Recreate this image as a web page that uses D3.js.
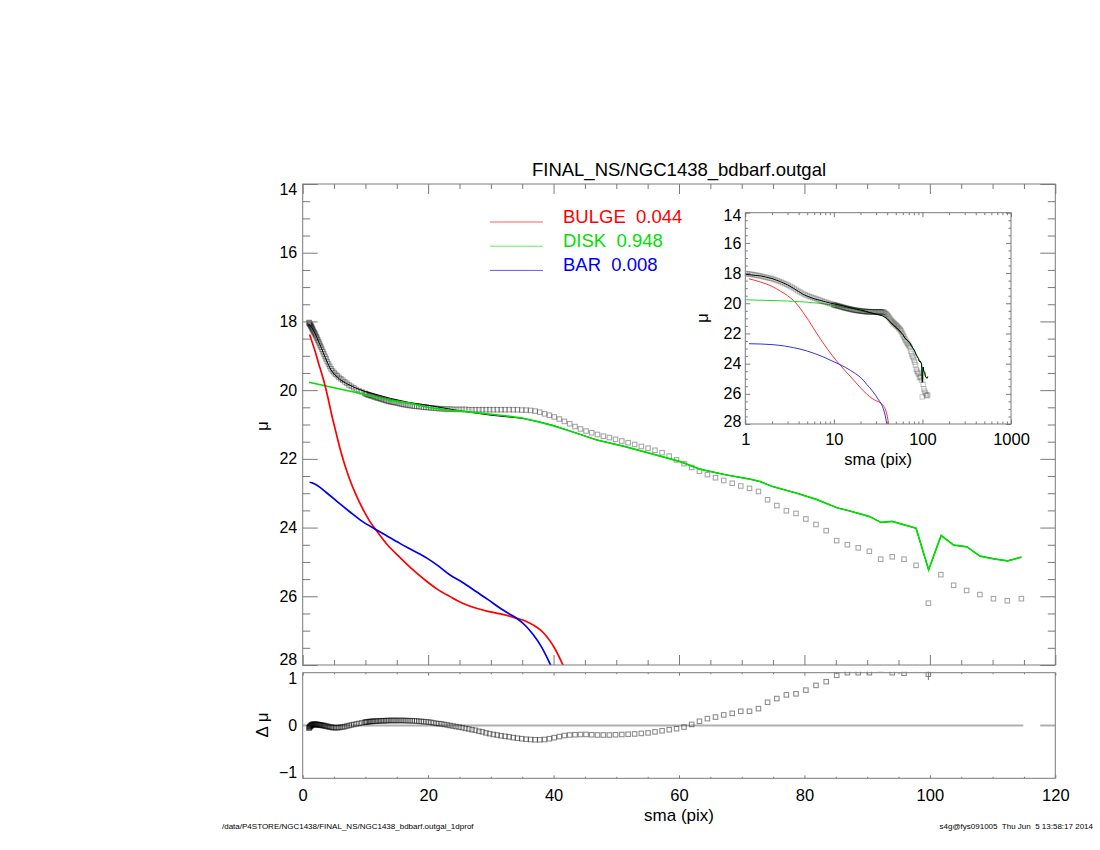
<!DOCTYPE html>
<html>
<head>
<meta charset="utf-8">
<script src="https://cdn.jsdelivr.net/npm/d3@7"></script>
<style>
  body { margin: 0; background: #fff; }
  svg text { font-family: "Liberation Sans", Arial, Helvetica, sans-serif; fill: #000; }
</style>
</head>
<body>
<svg id="chart" width="1100" height="850"></svg>
<script>
// ---- data ----
// isophote semi-major axis (pix)
var sma = [1.00, 1.05, 1.10, 1.16, 1.22, 1.28, 1.34, 1.41, 1.48, 1.55, 1.63, 1.71, 1.80, 1.89, 1.98, 2.08,
  2.18, 2.29, 2.41, 2.53, 2.65, 2.79, 2.93, 3.07, 3.23, 3.39, 3.56, 3.73, 3.92, 4.12, 4.32, 4.54,
  4.76, 5.00, 5.25, 5.52, 5.79, 6.08, 6.39, 6.70, 7.04, 7.39, 7.76, 8.15, 8.56, 8.99, 9.43, 9.91,
  10.03, 10.23, 10.44, 10.65, 10.86, 11.07, 11.30, 11.52, 11.75, 11.99, 12.23, 12.47, 12.72, 12.98,
  13.24, 13.50, 13.77, 14.05, 14.33, 14.61, 14.90, 15.20, 15.51, 15.82, 16.13, 16.45, 16.78, 17.12,
  17.46, 17.81, 18.17, 18.53, 18.90, 19.28, 19.67, 20.06, 20.46, 20.87, 21.29, 21.71, 22.15, 22.59,
  23.04, 23.50, 23.97, 24.45, 24.94, 25.44, 25.95, 26.47, 27.00, 27.54, 28.09, 28.65, 29.22, 29.80,
  30.40, 31.01, 31.63, 32.26, 32.91, 33.57, 34.24, 34.92, 35.62, 36.33, 37.06, 37.80,
  38.56, 39.33, 40.11, 40.92, 41.73, 42.57, 43.42, 44.29, 45.18, 46.08, 47.00, 47.94, 48.90, 49.88,
  50.88, 51.89, 52.93, 53.99, 55.07, 56.17, 57.30, 58.44, 59.61, 60.80, 62.02, 63.26, 64.53, 65.82,
  67.13, 68.48, 69.85, 71.24, 72.67, 74.12, 75.60, 77.12, 78.66, 80.23, 81.84, 83.47, 85.14, 86.85,
  88.58, 90.35, 92.16, 94.00, 95.88, 97.80, 99.76, 101.75, 103.79, 105.86, 107.98, 110.14, 112.34, 114.59];

// observed surface brightness
var mu = [18.03, 18.05, 18.06, 18.08, 18.10, 18.12, 18.14, 18.17, 18.19, 18.22, 18.25, 18.28, 18.31, 18.34, 18.37, 18.41,
  18.45, 18.49, 18.54, 18.59, 18.64, 18.70, 18.75, 18.81, 18.88, 18.95, 19.02, 19.09, 19.17, 19.24, 19.31, 19.38,
  19.44, 19.49, 19.54, 19.58, 19.63, 19.67, 19.71, 19.76, 19.80, 19.85, 19.89, 19.93, 19.98, 20.02, 20.05, 20.09,
  20.11, 20.12, 20.14, 20.15, 20.16, 20.17, 20.19, 20.20, 20.22, 20.23, 20.24, 20.26, 20.27, 20.29,
  20.30, 20.32, 20.33, 20.34, 20.35, 20.36, 20.37, 20.38, 20.40, 20.41, 20.42, 20.43, 20.44, 20.45,
  20.46, 20.47, 20.47, 20.48, 20.49, 20.50, 20.50, 20.51, 20.52, 20.52, 20.53, 20.54, 20.54, 20.55,
  20.55, 20.55, 20.56, 20.56, 20.56, 20.56, 20.56, 20.57, 20.57, 20.57, 20.57, 20.57, 20.57, 20.57,
  20.57, 20.57, 20.57, 20.57, 20.57, 20.57, 20.57, 20.58, 20.58, 20.59, 20.61, 20.64,
  20.69, 20.73, 20.78, 20.84, 20.91, 20.98, 21.06, 21.13, 21.19, 21.24, 21.29, 21.34, 21.38, 21.43,
  21.48, 21.53, 21.58, 21.64, 21.69, 21.75, 21.82, 21.92, 22.03, 22.14, 22.25, 22.36, 22.46, 22.55,
  22.63, 22.71, 22.79, 22.86, 22.95, 23.19, 23.36, 23.51, 23.59, 23.75, 23.91, 24.09, 24.38, 24.50,
  24.59, 24.69, 24.92, 24.85, 24.92, 25.10, 26.20, 25.37, 25.68, 25.83, 25.95, 26.07, 26.13, 26.07];

// residual data - model
var dmu = [-0.05, -0.04, -0.03, -0.02, -0.01, -0.01, 0.00, 0.01, 0.01, 0.02, 0.02, 0.02, 0.02, 0.02, 0.02, 0.02,
  0.02, 0.02, 0.02, 0.01, 0.01, 0.01, 0.01, 0.00, 0.00, 0.00, -0.01, -0.01, -0.02, -0.02, -0.03, -0.03,
  -0.04, -0.04, -0.04, -0.04, -0.04, -0.03, -0.03, -0.02, -0.01, 0.00, 0.01, 0.02, 0.03, 0.04, 0.05, 0.06,
  0.065, 0.07, 0.07, 0.075, 0.075, 0.08, 0.08, 0.08, 0.085, 0.085, 0.085, 0.09, 0.09, 0.09,
  0.09, 0.095, 0.095, 0.095, 0.095, 0.095, 0.095, 0.095, 0.095, 0.095, 0.095, 0.093, 0.092, 0.09,
  0.09, 0.088, 0.085, 0.08, 0.077, 0.073, 0.07, 0.065, 0.06, 0.05, 0.04, 0.035, 0.03, 0.02,
  0.01, 0.00, -0.01, -0.02, -0.03, -0.04, -0.055, -0.065, -0.08, -0.09, -0.11, -0.12, -0.14, -0.155,
  -0.17, -0.18, -0.195, -0.205, -0.215, -0.23, -0.24, -0.25, -0.26, -0.265, -0.27, -0.27,
  -0.265, -0.25, -0.23, -0.21, -0.19, -0.18, -0.175, -0.17, -0.17, -0.175, -0.18, -0.18, -0.18, -0.175,
  -0.17, -0.165, -0.16, -0.15, -0.14, -0.12, -0.10, -0.08, -0.06, -0.03, 0.02, 0.08, 0.13, 0.16,
  0.20, 0.23, 0.27, 0.27, 0.32, 0.44, 0.51, 0.58, 0.60, 0.67, 0.76, 0.83, 0.95, 1.00,
  1.00, 1.00, 1.07, 1.00, 0.99, 1.08, 0.97, 1.14, 1.17, 1.27, 1.12, 1.16, 1.16, 1.21];

// error bar visible on the residual panel
var errX = [99.76];
var errLo = [0.86];
var errHi = [1.08];

// model components
var bulgeX = [1.1, 1.5, 2.0, 2.5, 3.0, 3.5, 4.0, 4.6, 5.2, 5.95, 6.7, 7.5, 8.5, 9.7, 10.7, 11.8, 13.5, 15.5,
  17.5, 19.8, 21.5, 23.5, 25.5, 27.7, 29.5, 31.5, 33.0, 34.1, 35.5, 36.8, 37.9, 38.9, 40.2, 41.5, 42.5];
var bulgeMu = [18.38, 18.6, 18.88, 19.2, 19.5, 19.82, 20.2, 20.7, 21.15, 21.7, 22.17, 22.6, 23.05, 23.5, 23.82, 24.1, 24.5, 24.87,
  25.22, 25.57, 25.8, 26.01, 26.2, 26.35, 26.44, 26.51, 26.58, 26.64, 26.72, 26.84, 26.98, 27.17, 27.52, 28.0, 28.4];

var diskX = [1.0, 3.0, 5.0, 7.0, 9.1, 11.3, 14.0, 17.1, 20.0, 23.0, 25.1, 28.0, 31.5, 35.0, 37.8, 40.0, 43.1, 46.9,
  51.1, 55.4, 60.2, 63.3, 67.6, 71.3, 72.9, 75.0, 76.8, 78.8, 81.9, 85.3, 87.1, 90.4, 92.2, 94.0, 97.8,
  99.8, 101.8, 103.8, 105.9, 108.0, 110.2, 112.4, 114.6];
var diskMu = [19.77, 19.85, 19.93, 20.01, 20.09, 20.2, 20.3, 20.38, 20.5, 20.58, 20.61, 20.66, 20.73, 20.81, 20.93, 21.04, 21.22, 21.45,
  21.63, 21.84, 22.08, 22.3, 22.47, 22.59, 22.66, 22.81, 22.9, 23.0, 23.18, 23.43, 23.51, 23.68, 23.85, 23.82, 24.02,
  25.23, 24.23, 24.51, 24.56, 24.83, 24.91, 24.97, 24.86];

var barX = [1.1, 1.5, 2.0, 2.76, 3.5, 4.9, 6.0, 7.5, 9.5, 11.8, 13.5, 15.5, 17.5, 19.8, 21.5, 23.5, 25.5, 27.7,
  29.5, 31.5, 33.0, 34.1, 35.5, 36.8, 38.0, 39.4, 40.5];
var barMu = [22.68, 22.70, 22.74, 22.83, 22.94, 23.15, 23.32, 23.54, 23.82, 24.07, 24.25, 24.46, 24.66, 24.89, 25.1, 25.38, 25.6, 25.87,
  26.09, 26.35, 26.52, 26.64, 26.85, 27.13, 27.45, 27.95, 28.4];

// total model
var modelX = [1.0, 1.5, 2.0, 2.5, 3.0, 3.5, 4.0, 4.5, 5.0, 6.0, 7.0, 8.0, 9.0, 10, 12, 14, 17, 20, 25, 30, 35, 37.8,
  40.0, 43.1, 46.9, 51.1, 55.4, 60.2, 63.3, 67.6, 71.3, 72.9, 75.0, 76.8, 78.8, 81.9, 85.3, 87.1, 90.4, 92.2,
  94.0, 97.8, 99.8, 101.8, 103.8, 105.9, 108.0, 110.2, 112.4, 114.6];
var modelMu = [18.08, 18.19, 18.36, 18.57, 18.78, 19.01, 19.22, 19.41, 19.53, 19.7, 19.81, 19.9, 19.98, 20.04, 20.14, 20.24, 20.36, 20.44, 20.6, 20.73, 20.82, 20.93,
  21.03, 21.22, 21.45, 21.63, 21.84, 22.08, 22.3, 22.47, 22.59, 22.66, 22.81, 22.9, 23.0, 23.18, 23.43, 23.51, 23.68, 23.85,
  23.82, 24.02, 25.23, 24.23, 24.51, 24.56, 24.83, 24.91, 24.97, 24.86];

var legendNames = ["BULGE  0.044", "DISK  0.948", "BAR  0.008"];
var legendColors = ["#ff0000", "#00e000", "#0000ee"];

var xTicks = [0, 20, 40, 60, 80, 100, 120];
var muTicks = [14, 16, 18, 20, 22, 24, 26, 28];
var dmuTicks = [-1, 0, 1];
var logTicks = [1, 10, 100, 1000];

// ---- layout ----
var svg = d3.select("#chart");
var P = {left: 302.7, right: 1055.3, top: 184, bottom: 665};   // main panel
var R = {top: 672.7, bottom: 778.3};                             // residual panel
var I = {left: 745.3, right: 1011, top: 212.7, bottom: 424};     // inset

var x = d3.scaleLinear().domain([0, 120]).range([P.left, P.right]);
var y = d3.scaleLinear().domain([14, 28]).range([P.top, P.bottom]);
var yr = d3.scaleLinear().domain([-1, 1]).range([R.bottom, R.top]);
var xi = d3.scaleLog().domain([1, 1000]).range([I.left, I.right]);
var yi = d3.scaleLinear().domain([14, 28]).range([I.top, I.bottom]);

var axisGrey = "#7a7a7a";
var SQ = 4.5;

function clip(id, x0, y0, x1, y1) {
  svg.append("clipPath").attr("id", id).append("rect")
      .attr("x", x0).attr("y", y0).attr("width", x1 - x0).attr("height", y1 - y0);
}
clip("cMain", P.left, P.top, P.right, P.bottom);
clip("cRes", P.left, R.top - 1, P.right, R.bottom);
clip("cIns", I.left, I.top, I.right, I.bottom);

// inward tick marks, no labels
function tickMarks(axisFn, scale, values, len, tx, ty) {
  svg.append("g")
      .attr("transform", "translate(" + tx + "," + ty + ")")
      .call(axisFn(scale).tickValues(values).tickSize(-len).tickFormat(""))
      .call(function(g) {
        g.select(".domain").remove();
        g.selectAll("line").attr("stroke", axisGrey);
      });
}

// tick labels only; labels at the ends of a vertical axis are nudged inwards like IDL does
function tickLabels(axisFn, scale, values, pad, tx, ty, nudge, size) {
  svg.append("g")
      .attr("transform", "translate(" + tx + "," + ty + ")")
      .call(axisFn(scale).tickValues(values).tickSize(0).tickPadding(pad).tickFormat(d3.format("d")))
      .call(function(g) {
        g.select(".domain").remove();
        g.selectAll("text").attr("font-size", size || 16).attr("font-family", "Liberation Sans, Arial, sans-serif");
        if (nudge) {
          var dom = scale.domain();
          g.selectAll(".tick text").attr("y", function(d) {
            if (d === dom[0]) return scale(dom[0]) > scale(dom[1]) ? -nudge : nudge;
            if (d === dom[1]) return scale(dom[1]) > scale(dom[0]) ? -nudge : nudge;
            return 0;
          });
        }
      });
}

function frame(x0, y0, x1, y1) {
  svg.append("rect").attr("x", x0).attr("y", y0).attr("width", x1 - x0).attr("height", y1 - y0)
      .attr("fill", "none").attr("stroke", axisGrey).attr("stroke-width", 1);
}

function squares(g, xs, ys, sx, sy, opacity) {
  g.selectAll("rect")
      .data(xs.map(function(d, i) { return [d, ys[i]]; }))
    .enter().append("rect")
      .attr("x", function(d) { return sx(d[0]) - SQ / 2; })
      .attr("y", function(d) { return sy(d[1]) - SQ / 2; })
      .attr("width", SQ)
      .attr("height", SQ)
      .attr("fill", "none")
      .attr("stroke", "#000")
      .attr("stroke-opacity", opacity)
      .attr("stroke-width", 1.1);
}

function curve(g, xs, ys, sx, sy, color, width, smooth) {
  var line = d3.line()
      .x(function(d) { return sx(d[0]); })
      .y(function(d) { return sy(d[1]); })
      .curve(smooth ? d3.curveMonotoneX : d3.curveLinear);
  g.append("path")
      .datum(xs.map(function(d, i) { return [d, ys[i]]; }))
      .attr("d", line)
      .attr("fill", "none")
      .attr("stroke", color)
      .attr("stroke-width", width);
}

var minorX = d3.range(0, 121, 5).filter(function(v) { return v % 20; });
var minorMu = d3.range(14, 28.01, 0.5).filter(function(v) { return v % 2; });

// ---- main panel ----
var gMain = svg.append("g").attr("clip-path", "url(#cMain)");
squares(gMain.append("g"), sma, mu, x, y, 0.35);
curve(gMain, modelX, modelMu, x, y, "#000", 1, false);
curve(gMain, diskX, diskMu, x, y, "#00e000", 1.7, false);
curve(gMain, bulgeX, bulgeMu, x, y, "#ff0000", 1.7, true);
curve(gMain, barX, barMu, x, y, "#0000ee", 1.7, true);

frame(P.left, P.top, P.right, P.bottom);
tickMarks(d3.axisBottom, x, minorX, 5, 0, P.bottom);
tickMarks(d3.axisBottom, x, xTicks, 10, 0, P.bottom);
tickMarks(d3.axisTop, x, minorX, 5, 0, P.top);
tickMarks(d3.axisTop, x, xTicks, 10, 0, P.top);
tickMarks(d3.axisLeft, y, minorMu, 7.5, P.left, 0);
tickMarks(d3.axisLeft, y, muTicks, 15, P.left, 0);
tickMarks(d3.axisRight, y, minorMu, 7.5, P.right, 0);
tickMarks(d3.axisRight, y, muTicks, 15, P.right, 0);
tickLabels(d3.axisLeft, y, muTicks, 5.5, P.left, 0, 5.5, 16);

// ---- residual panel ----
var gRes = svg.append("g").attr("clip-path", "url(#cRes)");
gRes.append("line")
    .attr("x1", x(0)).attr("x2", x(114.9)).attr("y1", yr(0)).attr("y2", yr(0))
    .attr("stroke", "#b0b0b0").attr("stroke-width", 2);
gRes.append("line")
    .attr("x1", x(117.6)).attr("x2", x(120)).attr("y1", yr(0)).attr("y2", yr(0))
    .attr("stroke", "#b0b0b0").attr("stroke-width", 2);
squares(gRes.append("g"), sma, dmu, x, yr, 0.45);
gRes.selectAll("line.err")
    .data(errX)
  .enter().append("line")
    .attr("class", "err")
    .attr("x1", function(d) { return x(d); }).attr("x2", function(d) { return x(d); })
    .attr("y1", function(d, i) { return yr(errLo[i]); })
    .attr("y2", function(d, i) { return yr(errHi[i]); })
    .attr("stroke", "#777").attr("stroke-width", 1);

frame(P.left, R.top, P.right, R.bottom);
tickMarks(d3.axisBottom, x, minorX, 1.5, 0, R.bottom);
tickMarks(d3.axisBottom, x, xTicks, 3, 0, R.bottom);
tickMarks(d3.axisTop, x, minorX, 1.5, 0, R.top);
tickMarks(d3.axisTop, x, xTicks, 3, 0, R.top);
tickLabels(d3.axisLeft, yr, dmuTicks, 5.5, P.left, 0, 5.5, 16);
tickLabels(d3.axisBottom, x, xTicks, 10.5, 0, R.bottom, 0, 16.5);

// ---- inset (log sma) ----
var gIns = svg.append("g").attr("clip-path", "url(#cIns)");
curve(gIns, bulgeX, bulgeMu, xi, yi, "#ff3030", 1, true);
curve(gIns, barX, barMu, xi, yi, "#3030ee", 1, true);
curve(gIns, diskX, diskMu, xi, yi, "#20e020", 1, false);
squares(gIns.append("g"), sma, mu, xi, yi, 0.2);
curve(gIns, modelX, modelMu, xi, yi, "#000", 1, false);

var logMinor = [];
[1, 10, 100].forEach(function(dec) {
  for (var k = 2; k <= 9; k++) logMinor.push(dec * k);
});
frame(I.left, I.top, I.right, I.bottom);
tickMarks(d3.axisBottom, xi, logMinor, 2.5, 0, I.bottom);
tickMarks(d3.axisBottom, xi, logTicks, 4.5, 0, I.bottom);
tickMarks(d3.axisTop, xi, logMinor, 2.5, 0, I.top);
tickMarks(d3.axisTop, xi, logTicks, 4.5, 0, I.top);
tickMarks(d3.axisLeft, yi, minorMu, 2.5, I.left, 0);
tickMarks(d3.axisLeft, yi, muTicks, 5, I.left, 0);
tickMarks(d3.axisRight, yi, minorMu, 2.5, I.right, 0);
tickMarks(d3.axisRight, yi, muTicks, 5, I.right, 0);
tickLabels(d3.axisLeft, yi, muTicks, 4, I.left, 0, 3, 16);
tickLabels(d3.axisBottom, xi, logTicks, 9.5, 0, I.bottom, 0, 16.5);

// ---- text ----
svg.append("text").attr("x", (P.left + P.right) / 2).attr("y", 176)
    .attr("text-anchor", "middle").attr("font-size", 18.5)
    .text("FINAL_NS/NGC1438_bdbarf.outgal");

svg.append("text").attr("x", (P.left + P.right) / 2).attr("y", 821)
    .attr("text-anchor", "middle").attr("font-size", 17).text("sma (pix)");
svg.append("text").attr("transform", "translate(268,426) rotate(-90)")
    .attr("text-anchor", "middle").attr("font-size", 17).text("μ");
svg.append("text").attr("transform", "translate(268,725) rotate(-90)")
    .attr("text-anchor", "middle").attr("font-size", 17).text("Δ μ");

svg.append("text").attr("x", (I.left + I.right) / 2).attr("y", 465)
    .attr("text-anchor", "middle").attr("font-size", 16.5).text("sma (pix)");
svg.append("text").attr("transform", "translate(708,318) rotate(-90)")
    .attr("text-anchor", "middle").attr("font-size", 16.5).text("μ");

// legend
var leg = svg.append("g");
legendNames.forEach(function(name, i) {
  var ly = 222 + i * 24.2;
  leg.append("line").attr("x1", 490).attr("x2", 543).attr("y1", ly).attr("y2", ly)
      .attr("stroke", legendColors[i]).attr("stroke-width", 0.8).attr("stroke-opacity", 0.8);
  leg.append("text").attr("x", 563).attr("y", ly + 1)
      .attr("font-size", 18.5).attr("xml:space", "preserve").style("white-space", "pre")
      .style("fill", legendColors[i]).text(name);
});

// footer
svg.append("text").attr("x", 222).attr("y", 829).attr("font-size", 8)
    .text("/data/P4STORE/NGC1438/FINAL_NS/NGC1438_bdbarf.outgal_1dprof");
svg.append("text").attr("x", 1093).attr("y", 829).attr("font-size", 8)
    .attr("text-anchor", "end").style("white-space", "pre")
    .text("s4g@fys091005  Thu Jun  5 13:58:17 2014");
</script>
</body>
</html>
